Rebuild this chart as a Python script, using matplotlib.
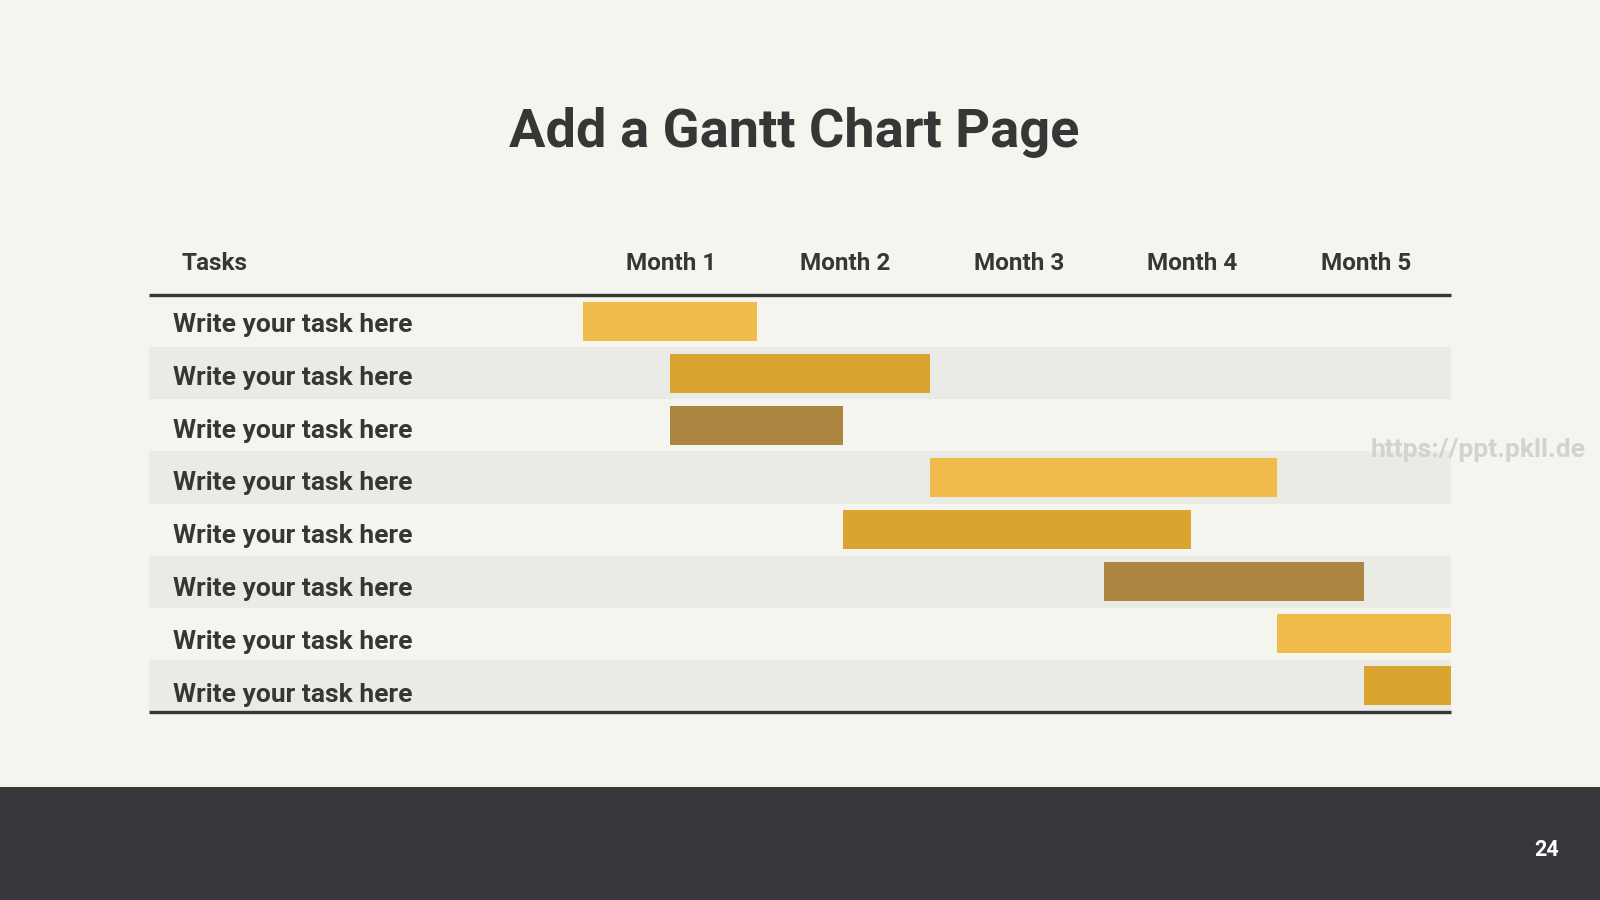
import matplotlib.pyplot as plt
from matplotlib.patches import Rectangle

# data
tasks = ["Write your task here"] * 8
months = ["Month 1", "Month 2", "Month 3", "Month 4", "Month 5"]
starts = [0.0, 0.5, 0.5, 2.0, 1.5, 3.0, 4.0, 4.5]
durations = [1.0, 1.5, 1.0, 2.0, 2.0, 1.5, 1.0, 0.5]
bar_colors = ["#efbb4a", "#d9a530", "#ac8540", "#efbb4a", "#d9a530", "#ac8540", "#efbb4a", "#d9a530"]

BG = "#f5f5ef"
STRIPE = "#ebebe6"
INK = "#363636"
FOOTER = "#38373c"
FONT = "Roboto"

plt.rcParams['font.family'] = [FONT, 'DejaVu Sans']

W, H = 1600, 900
fig = plt.figure(figsize=(16, 9), dpi=100, facecolor=BG)

# table axes: pixel box of the table body
left, right, top, bottom = 149, 1451, 295, 712
ax = fig.add_axes([left / W, 1 - bottom / H, (right - left) / W, (bottom - top) / H])
ax.set_facecolor(BG)
n = len(tasks)
ax.set_xlim(-2.5, 5)
ax.set_ylim(n - 0.5, -0.5)
ax.axis("off")

# zebra rows
for i in range(n):
    if i % 2 == 1:
        ax.axhspan(i - 0.5, i + 0.5, color=STRIPE, zorder=0, lw=0)

# bars
ax.barh(range(n), durations, left=starts, height=0.75, color=bar_colors, zorder=2)

# task labels
for i, t in enumerate(tasks):
    ax.text(-2.36, i + 0.07 + i * 0.015, t, fontsize=19, fontweight="bold", color=INK,
            va="center", ha="left", zorder=3)

# header
ax.text(-2.31, -1.11, "Tasks", fontsize=17.5, fontweight="bold", color=INK,
        va="center", ha="left", clip_on=False)
for j, m in enumerate(months):
    ax.text(j + 0.51, -1.11, m, fontsize=17.5, fontweight="bold", color=INK,
            va="center", ha="center", clip_on=False)

# header/bottom rules
ax.plot([-2.5, 5], [-0.5, -0.5], color=INK, lw=2.4, clip_on=False, zorder=4, solid_capstyle="butt")
ax.plot([-2.5, 5], [n - 0.5, n - 0.5], color=INK, lw=2.4, clip_on=False, zorder=4, solid_capstyle="butt")

# title
fig.text(794 / W, 1 - 133 / H, "Add a Gantt Chart Page", fontsize=39, fontweight="bold",
         color=INK, ha="center", va="center")

# watermark
fig.text(1478 / W, 1 - 450 / H, "https://ppt.pkll.de", fontsize=19, fontweight="bold",
         color="#d2d2ce", ha="center", va="center")

# footer band
fig.patches.append(Rectangle((0, 0), 1, 1 - 787 / H, transform=fig.transFigure,
                             facecolor=FOOTER, edgecolor="none", zorder=0))
fig.text(1547 / W, 1 - 850 / H, "24", fontsize=15.5, fontweight="bold", color="white",
         ha="center", va="center")

fig.savefig("out.png", dpi=100, facecolor=BG)
